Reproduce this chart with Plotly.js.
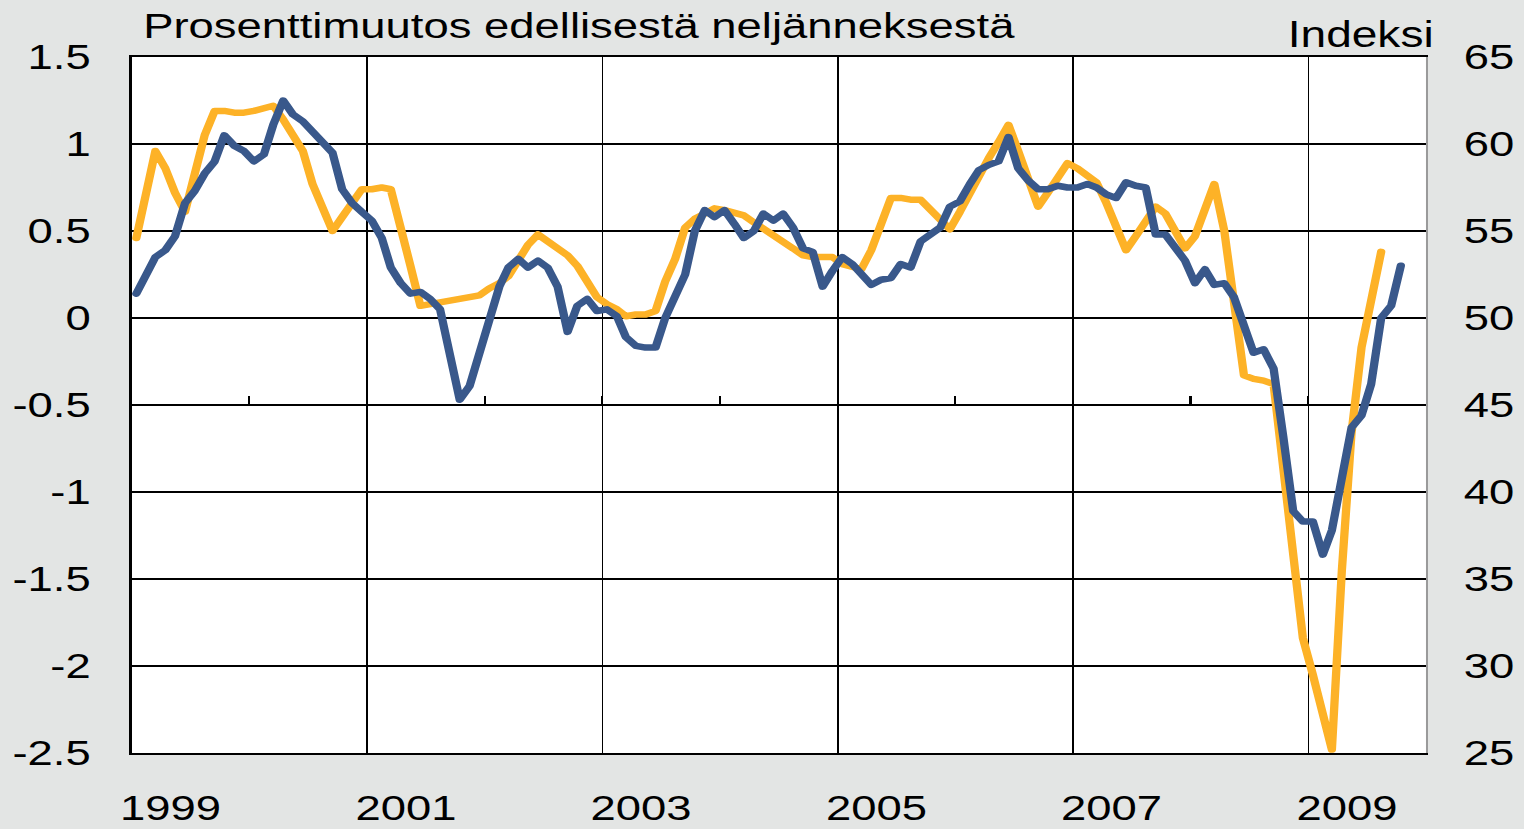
<!DOCTYPE html>
<html>
<head>
<meta charset="utf-8">
<script src="https://cdn.plot.ly/plotly-3.0.1.min.js"></script>
<style>
  html, body { margin: 0; padding: 0; background: #E3E5E4; overflow: hidden; }
  #chart { width: 1191px; height: 829px; transform: scaleX(1.28); transform-origin: 0 0; }
  .js-line { stroke-linejoin: round; stroke-linecap: round; }
</style>
</head>
<body>
<div id="chart"></div>
<script>
// Monthly data, January 1999 onwards
const startYear = 1999;

// Left axis: percentage change from previous quarter (orange)
const pctChange = [
  0.46, 0.74, 0.96, 0.86, 0.72, 0.61, 0.85, 1.05, 1.19, 1.19, 1.18, 1.18,   // 1999
  1.19, 1.21, 1.22, 1.14, 1.05, 0.96, 0.77, 0.64, 0.50, 0.58, 0.66, 0.74,   // 2000
  0.74, 0.75, 0.74, 0.53, 0.30, 0.07, 0.08, 0.09, 0.10, 0.11, 0.12, 0.13,   // 2001
  0.17, 0.20, 0.24, 0.33, 0.42, 0.48, 0.44, 0.40, 0.36, 0.30, 0.21, 0.12,   // 2002
  0.08, 0.05, 0.01, 0.02, 0.02, 0.04, 0.21, 0.34, 0.52, 0.57, 0.60, 0.63,   // 2003
  0.62, 0.60, 0.59, 0.55, 0.51, 0.47, 0.44, 0.40, 0.36, 0.35, 0.35, 0.35,   // 2004
  0.31, 0.29, 0.28, 0.39, 0.53, 0.69, 0.69, 0.68, 0.68, 0.62, 0.57, 0.51,   // 2005
  0.61, 0.72, 0.82, 0.92, 1.01, 1.11, 0.96, 0.79, 0.64, 0.72, 0.80, 0.89,   // 2006
  0.86, 0.82, 0.78, 0.66, 0.52, 0.39, 0.47, 0.55, 0.64, 0.60, 0.50, 0.40,   // 2007
  0.47, 0.61, 0.77, 0.50, 0.10, -0.33, -0.35, -0.36, -0.38, -0.88, -1.41, -1.84, // 2008
  -2.05, -2.27, -2.48, -1.45, -0.66, -0.17, 0.11, 0.38                      // 2009
];

// Right axis: index (blue)
const indexValues = [
  51.4, 52.5, 53.5, 53.9, 54.7, 56.6, 57.3, 58.3, 59.0, 60.5, 59.9, 59.6,   // 1999
  59.0, 59.4, 61.1, 62.5, 61.7, 61.3, 60.7, 60.2, 59.5, 57.4, 56.6, 56.1,   // 2000
  55.6, 54.6, 52.9, 52.0, 51.4, 51.5, 51.1, 50.5, 48.0, 45.3, 46.1, 47.9,   // 2001
  50.0, 51.8, 52.9, 53.4, 52.9, 53.3, 52.9, 51.8, 49.2, 50.7, 51.1, 50.4,   // 2002
  50.5, 50.1, 48.9, 48.4, 48.3, 48.3, 50.0, 51.2, 52.5, 55.0, 56.2, 55.8,   // 2003
  56.2, 55.4, 54.6, 55.0, 56.0, 55.6, 56.0, 55.2, 54.0, 53.8, 51.8, 52.7,   // 2004
  53.5, 53.1, 52.6, 51.9, 52.2, 52.3, 53.1, 52.9, 54.4, 54.8, 55.2, 56.4,   // 2005
  56.7, 57.7, 58.5, 58.8, 59.0, 60.4, 58.6, 57.9, 57.4, 57.4, 57.6, 57.5,   // 2006
  57.5, 57.7, 57.5, 57.1, 56.9, 57.8, 57.6, 57.5, 54.8, 54.8, 54.1, 53.3,   // 2007
  52.0, 52.8, 51.9, 52.0, 51.2, 49.7, 48.0, 48.2, 47.1, 43.2, 38.9, 38.3,   // 2008
  38.3, 36.4, 37.8, 40.8, 43.7, 44.4, 46.2, 50.0, 50.7, 53.0                // 2009
];

const yearLabels = ['1999', '2001', '2003', '2005', '2007', '2009'];
const leftTickVals = [1.5, 1, 0.5, 0, -0.5, -1, -1.5, -2, -2.5];
const leftTickText = ['1.5', '1', '0.5', '0', '-0.5', '-1', '-1.5', '-2', '-2.5'];
const rightTickVals = [65, 60, 55, 50, 45, 40, 35, 30, 25];
const rightTickText = ['65', '60', '55', '50', '45', '40', '35', '30', '25'];
const allYears = ['1999','2000','2001','2002','2003','2004','2005','2006','2007','2008','2009','2010'];

function monthDate(i) {
  const y = startYear + Math.floor(i / 12);
  const m = (i % 12) + 1;
  return y + '-' + String(m).padStart(2, '0') + '-15';
}
const monthsPct = pctChange.map((_, i) => monthDate(i));
const monthsIdx = indexValues.map((_, i) => monthDate(i));

const FONT = 'Liberation Sans, Arial, sans-serif';
const xRange = ['1999-01-01', '2010-01-01'];

const traces = [
  { x: monthsPct, y: pctChange, type: 'scatter', mode: 'lines', xaxis: 'x', yaxis: 'y',
    line: { color: '#FDB227', width: 6.5 }, hoverinfo: 'skip', showlegend: false },
  { x: monthsIdx, y: indexValues, type: 'scatter', mode: 'lines', xaxis: 'x', yaxis: 'y2',
    line: { color: '#39588B', width: 6.5 }, hoverinfo: 'skip', showlegend: false },
  { x: [], y: [], type: 'scatter', mode: 'lines', xaxis: 'x2', yaxis: 'y', showlegend: false, hoverinfo: 'skip' },
  { x: [], y: [], type: 'scatter', mode: 'lines', xaxis: 'x3', yaxis: 'y', showlegend: false, hoverinfo: 'skip' }
];

const layout = {
  width: 1191, height: 829,
  margin: { l: 103.1, r: 76.9, t: 57, b: 76, autoexpand: false },
  paper_bgcolor: '#E3E5E4',
  plot_bgcolor: '#FFFFFF',
  font: { family: FONT, size: 35.5, color: '#000' },
  title: {
    text: 'Prosenttimuutos edellisestä neljänneksestä',
    font: { family: FONT, size: 35.5, color: '#000' },
    xref: 'container', x: 0.0939, xanchor: 'left',
    yref: 'container', y: 0.969, yanchor: 'middle', pad: { t: 0, b: 0, l: 0, r: 0 }
  },
  xaxis: {
    type: 'date', range: xRange,
    tickvals: yearLabels.slice(1).map(y => y + '-01-01'),
    showticklabels: false, ticks: '',
    showgrid: true, gridcolor: '#000', gridwidth: 1.3,
    showline: true, linecolor: '#000', linewidth: 2, mirror: true,
    zeroline: false, fixedrange: true
  },
  xaxis2: {
    type: 'date', range: xRange, overlaying: 'x', anchor: 'free', position: 0.5, side: 'bottom',
    tickvals: allYears.map(y => y + '-01-01'),
    ticks: 'inside', ticklen: 9, tickwidth: 1.6, tickcolor: '#000',
    showticklabels: false, showgrid: false, showline: false, zeroline: false
  },
  xaxis3: {
    type: 'date', range: xRange, overlaying: 'x', anchor: 'y', side: 'bottom',
    tickvals: yearLabels.map(y => y + '-05-01'), ticktext: yearLabels,
    ticks: '', ticklabelstandoff: 31,
    tickfont: { family: FONT, size: 35.5, color: '#000' },
    showgrid: false, showline: false, zeroline: false
  },
  yaxis: {
    range: [-2.5, 1.5], tickvals: leftTickVals, ticktext: leftTickText,
    ticks: '', ticklabelstandoff: 23,
    tickfont: { family: FONT, size: 35.5, color: '#000' },
    showgrid: true, gridcolor: '#000', gridwidth: 1.3,
    showline: true, linecolor: '#000', linewidth: 2,
    zeroline: false, fixedrange: true
  },
  yaxis2: {
    range: [25, 65], overlaying: 'y', side: 'right', anchor: 'x',
    tickvals: rightTickVals, ticktext: rightTickText,
    ticks: '', ticklabelstandoff: 21,
    tickfont: { family: FONT, size: 35.5, color: '#000' },
    showgrid: false, showline: true, linecolor: '#9A9A9A', linewidth: 1.5,
    zeroline: false, fixedrange: true
  },
  annotations: [{
    text: 'Indeksi', xref: 'paper', yref: 'paper', x: 1.0078, y: 1.0326,
    xanchor: 'right', yanchor: 'middle', showarrow: false,
    font: { family: FONT, size: 36, color: '#000' }
  }]
};

Plotly.newPlot('chart', traces, layout, { staticPlot: true, displayModeBar: false, responsive: false });
</script>
</body>
</html>
